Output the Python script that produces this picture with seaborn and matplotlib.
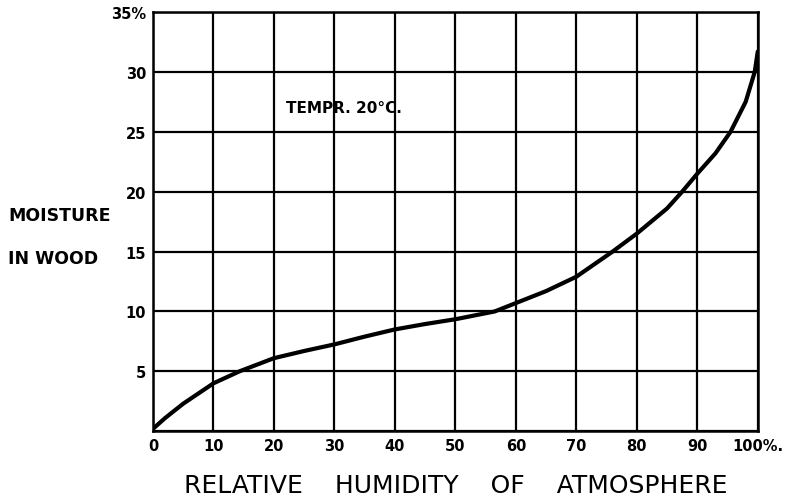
import matplotlib
matplotlib.use("Agg")
import matplotlib.pyplot as plt
import seaborn as sns
import pandas as pd

# values
humidity = [0, 2, 5, 10, 14.3, 20, 25, 30, 35, 40, 45, 50, 53, 56.5, 60, 65, 70, 76, 80, 85, 87.5, 90, 93, 95.5, 98, 99.5, 100]
moisture = [0.2, 1.1, 2.3, 4.0, 5.0, 6.1, 6.7, 7.25, 7.9, 8.5, 8.95, 9.35, 9.65, 10.0, 10.7, 11.7, 12.9, 15.0, 16.5, 18.6, 20.0, 21.5, 23.2, 25.0, 27.5, 30.0, 31.7]

x_ticks = [0, 10, 20, 30, 40, 50, 60, 70, 80, 90, 100]
x_labels = ["0", "10", "20", "30", "40", "50", "60", "70", "80", "90", "100%."]
y_ticks = [0, 5, 10, 15, 20, 25, 30, 35]
y_labels = ["", "5", "10", "15", "20", "25", "30", "35%"]

df = pd.DataFrame({"humidity": humidity, "moisture": moisture})

sns.set_style("white")
plt.rcParams["font.family"] = ["DejaVu Sans"]
plt.rcParams["text.color"] = "black"
plt.rcParams["axes.labelcolor"] = "black"
plt.rcParams["xtick.color"] = "black"
plt.rcParams["ytick.color"] = "black"

fig = plt.figure(figsize=(8.01, 5.02), dpi=100)
ax = fig.add_axes([0.191, 0.139, 0.755, 0.835])

sns.lineplot(data=df, x="humidity", y="moisture", color="black", linewidth=3, ax=ax)

ax.set_xlim(0, 100)
ax.set_ylim(0, 35)
ax.set_xticks(x_ticks)
ax.set_xticklabels(x_labels, fontsize=10.5, fontweight="bold")
ax.set_yticks(y_ticks)
ax.set_yticklabels(y_labels, fontsize=10.5, fontweight="bold")
ax.tick_params(length=0, pad=5)
ax.grid(True, color="black", linewidth=1.6)
for s in ax.spines.values():
    s.set_color("black")
    s.set_linewidth(1.8)

ax.set_xlabel("RELATIVE    HUMIDITY    OF    ATMOSPHERE", fontsize=18, labelpad=14)
ax.set_ylabel("")
fig.text(0.01, 0.57, "MOISTURE", fontsize=12.5, fontweight="bold", va="center")
fig.text(0.01, 0.485, "IN WOOD", fontsize=12.5, fontweight="bold", va="center")

ax.text(22, 27, "TEMPR. 20°C.", fontsize=11, fontweight="bold", va="center")

fig.savefig("out.png", dpi=100)
